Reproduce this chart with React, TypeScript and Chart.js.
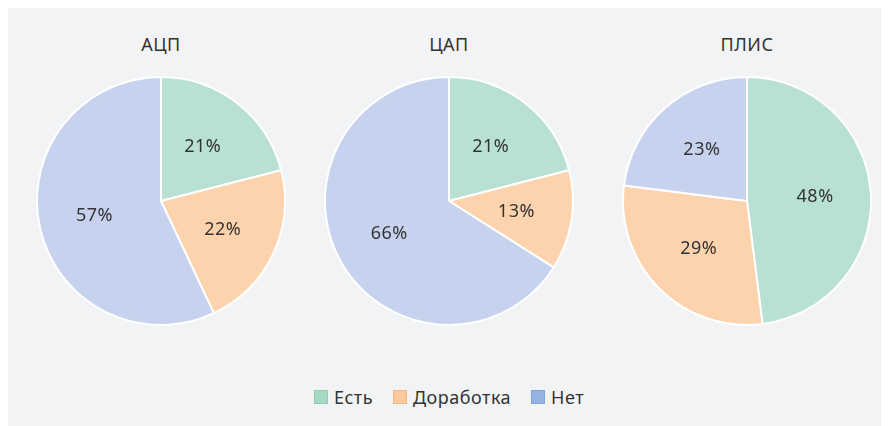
import React, { useEffect, useRef } from "react";
import { Chart, registerables } from "chart.js";

Chart.register(...registerables);

const categories = ["Есть", "Доработка", "Нет"];
const chartTitles = ["АЦП", "ЦАП", "ПЛИС"];
const adcValues = [21, 22, 57];
const dacValues = [21, 13, 66];
const fpgaValues = [48, 29, 23];
const allValues = [adcValues, dacValues, fpgaValues];

const sliceColors = ["#b9e1d2", "#fdd3ad", "#c7d3ee"];
const legendColors = ["#a6dac4", "#fdc89a", "#94b3e0"];
const legendBorders = ["#93cdb3", "#f3b883", "#83a4d6"];

const FONT = "'Noto Sans', sans-serif";

const pieLeft = [28, 316, 614];
const titleX = [153, 441, 739];

const labelPlugin = {
  id: "pctLabels",
  afterDatasetsDraw(chart: any) {
    const ctx = chart.ctx;
    const meta = chart.getDatasetMeta(0);
    const data = chart.data.datasets[0].data;
    ctx.save();
    ctx.font = `18px ${FONT}`;
    try {
      (ctx as any).letterSpacing = "0.5px";
    } catch (e) {}
    ctx.fillStyle = "#333333";
    ctx.textAlign = "center";
    ctx.textBaseline = "middle";
    meta.data.forEach((arc: any, i: number) => {
      const { x, y, startAngle, endAngle, outerRadius } = arc.getProps(
        ["x", "y", "startAngle", "endAngle", "outerRadius"],
        true
      );
      const mid = (startAngle + endAngle) / 2;
      const r = outerRadius * 0.55;
      ctx.fillText(`${data[i]}%`, x + Math.cos(mid) * r, y + Math.sin(mid) * r);
    });
    ctx.restore();
  },
};

function Pie({ values, left }: { values: number[]; left: number }) {
  const ref = useRef<HTMLCanvasElement>(null);
  useEffect(() => {
    const chart = new Chart(ref.current!, {
      type: "pie",
      data: {
        labels: categories,
        datasets: [
          {
            data: values,
            backgroundColor: sliceColors,
            borderColor: "#ffffff",
            borderWidth: 2,
          },
        ],
      },
      options: {
        responsive: false,
        animation: false,
        layout: { padding: 0 },
        plugins: {
          legend: { display: false },
          tooltip: { enabled: false },
        },
      },
      plugins: [labelPlugin],
    });
    return () => chart.destroy();
  }, [values]);
  return (
    <canvas
      ref={ref}
      width={250}
      height={250}
      style={{ position: "absolute", left, top: 68, width: 250, height: 250 }}
    />
  );
}

export default function App() {
  return (
    <div
      style={{
        position: "relative",
        width: 878,
        height: 418,
        background: "#f2f3f5",
        fontFamily: FONT,
        color: "#333333",
        letterSpacing: "0.5px",
      }}
    >
      {chartTitles.map((t, i) => (
        <div
          key={t}
          style={{
            position: "absolute",
            left: titleX[i] - 100,
            width: 200,
            top: 24,
            textAlign: "center",
            fontSize: 18,
            lineHeight: "24px",
          }}
        >
          {t}
        </div>
      ))}
      {allValues.map((v, i) => (
        <Pie key={i} values={v} left={pieLeft[i]} />
      ))}
      <div
        style={{
          position: "absolute",
          left: 0,
          width: 882,
          top: 377,
          display: "flex",
          justifyContent: "center",
          alignItems: "center",
          fontSize: 18,
          lineHeight: "24px",
        }}
      >
        {categories.map((c, i) => (
          <div
            key={c}
            style={{
              display: "flex",
              alignItems: "center",
              marginLeft: i === 0 ? 0 : 20,
            }}
          >
            <span
              style={{
                display: "inline-block",
                width: 12,
                height: 12,
                background: legendColors[i],
                border: `1px solid ${legendBorders[i]}`,
                marginRight: 6,
              }}
            />
            <span>{c}</span>
          </div>
        ))}
      </div>
    </div>
  );
}
